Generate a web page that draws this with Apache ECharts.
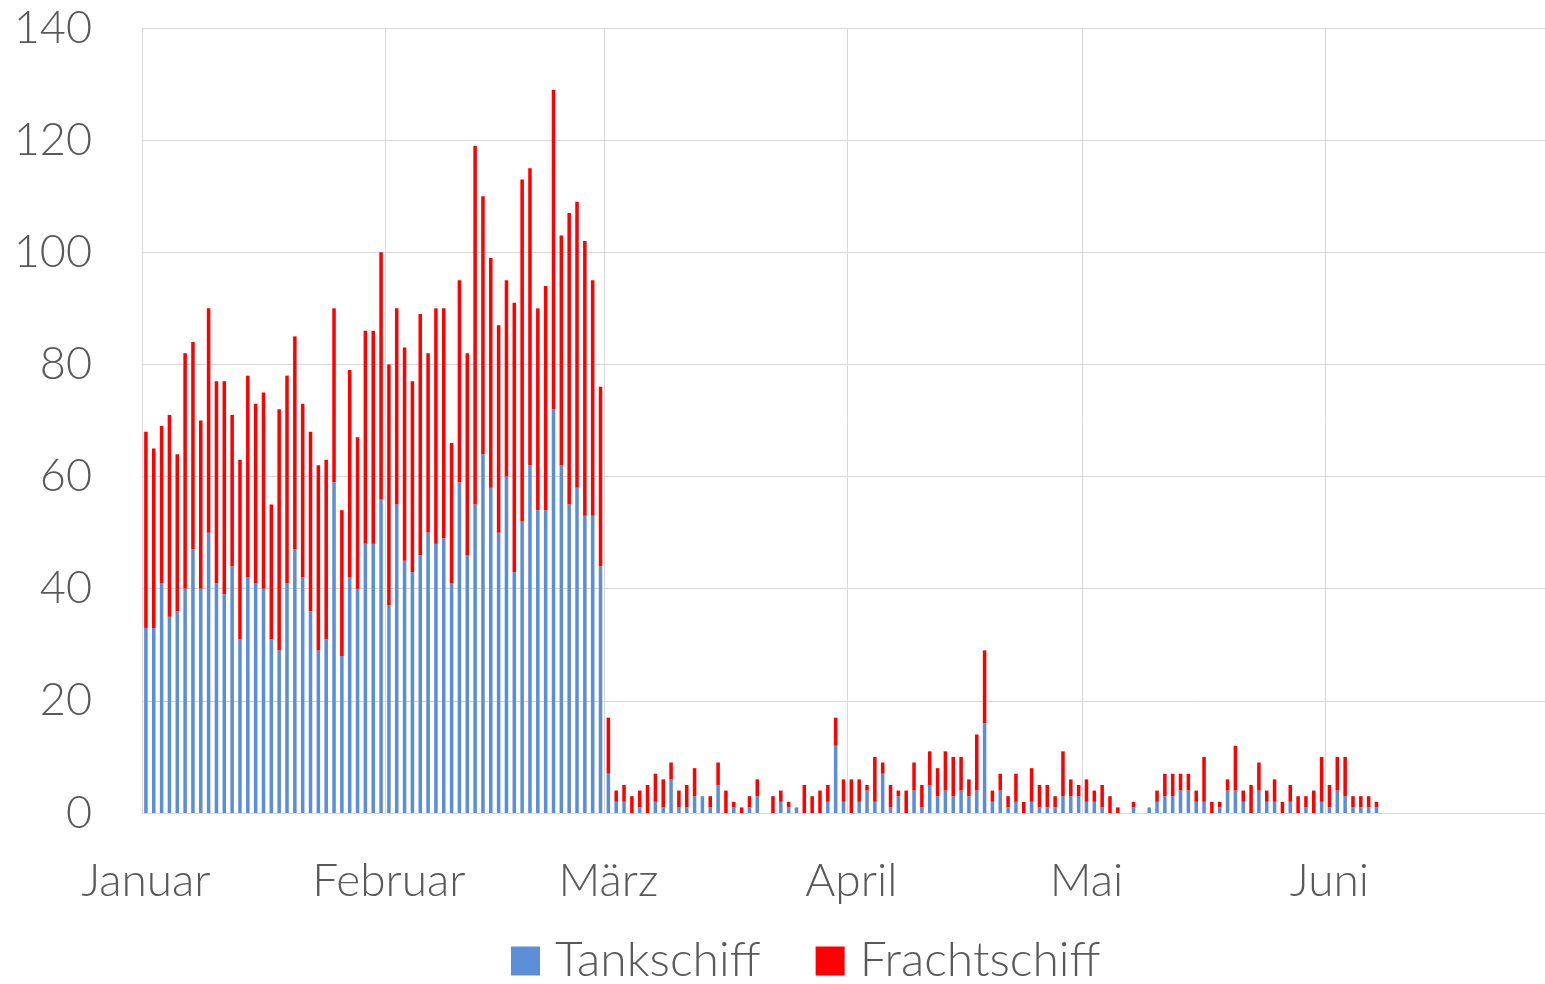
<!DOCTYPE html>
<html>
<head>
<meta charset="utf-8">
<script src="https://cdn.jsdelivr.net/npm/echarts@6/dist/echarts.min.js"></script>
<style>html,body{margin:0;padding:0;background:#fff}#c{width:1545px;height:984px}</style>
</head>
<body>
<div id="c"></div>
<script>
// Month names used as tick labels and month lengths (2022, no leap year)
var monthNames = ['Januar', 'Februar', 'März', 'April', 'Mai', 'Juni'];
var monthDays = [31, 28, 31, 30, 31, 28];

// Daily values from 1 January to 7 June
var tankschiff = [
 33,33,41,35,36,40,47,40,50,41,39,44,31,42,41,40,31,29,41,47,42,36,29,31,59,28,42,40,48,48,56,
 37,55,45,43,46,50,48,49,41,59,46,55,64,58,50,60,43,52,62,54,54,72,62,55,58,53,53,44,
 7,2,2,0,1,0,2,1,6,1,1,3,3,1,5,0,1,0,1,3,0,0,2,1,1,0,0,0,2,12,2,
 0,2,4,2,7,1,3,0,4,1,5,3,4,3,4,3,4,16,2,4,1,2,0,2,1,1,1,3,3,3,
 2,2,1,0,0,0,1,0,1,2,3,3,4,4,2,2,0,1,4,4,2,0,4,2,2,0,2,0,1,0,2,
 1,4,3,1,1,1,1
];
var frachtschiff = [
 35,32,28,36,28,42,37,30,40,36,38,27,32,36,32,35,24,43,37,38,31,32,33,32,31,26,37,27,38,38,44,
 43,35,38,34,43,32,42,41,25,36,36,64,46,41,37,35,48,61,53,36,40,57,41,52,51,49,42,32,
 10,2,3,3,3,5,5,5,3,3,4,5,0,2,4,4,1,1,2,3,0,3,2,1,0,5,3,4,3,5,4,
 6,4,1,8,2,4,1,4,5,4,6,5,7,7,6,3,10,13,2,3,2,5,2,6,4,4,2,8,3,2,
 4,2,4,3,1,0,1,0,0,2,4,4,3,3,2,8,2,1,2,8,2,5,5,2,4,2,3,3,2,4,8,
 4,6,7,2,2,2,1
];

var categories = [];
monthDays.forEach(function (n, m) {
  for (var d = 1; d <= n; d++) {
    categories.push('2022-' + String(m + 1).padStart(2, '0') + '-' + String(d).padStart(2, '0'));
  }
});
function isMonthStart(i, v) { return v.slice(8) === '01'; }

var FONT = 'Lato';
var chart = echarts.init(document.getElementById('c'), null, {renderer: 'canvas'});
chart.setOption({
  animation: false,
  grid: {left: 142, right: -3, top: 28, bottom: 171},
  legend: {
    bottom: -6, left: 506, icon: 'rect', itemWidth: 29, itemHeight: 29, itemGap: 55,
    textStyle: {fontFamily: FONT, fontWeight: 300, fontSize: 48, color: '#595959', padding: [0, 0, 0, 10]},
    data: ['Tankschiff', 'Frachtschiff']
  },
  xAxis: {
    type: 'category', data: categories, boundaryGap: true,
    axisLine: {lineStyle: {color: '#d9d9d9', width: 1}},
    axisTick: {show: false},
    axisLabel: {
      interval: isMonthStart, margin: 45,
      fontFamily: FONT, fontWeight: 300, fontSize: 46, color: '#595959',
      formatter: function (v) { return monthNames[parseInt(v.slice(5, 7), 10) - 1]; }
    },
    splitLine: {show: true, interval: isMonthStart, lineStyle: {color: '#d9d9d9', width: 1}}
  },
  yAxis: {
    type: 'value', min: 0, max: 140, interval: 20,
    axisLine: {show: false}, axisTick: {show: false},
    axisLabel: {margin: 50, fontFamily: FONT, fontWeight: 300, fontSize: 45, color: '#595959'},
    splitLine: {lineStyle: {color: '#d9d9d9', width: 1}}
  },
  series: [
    {name: 'Tankschiff', type: 'bar', stack: 's', data: tankschiff, barCategoryGap: '55%',
     itemStyle: {color: '#5B8ED6'}},
    {name: 'Frachtschiff', type: 'bar', stack: 's', data: frachtschiff, barCategoryGap: '55%',
     itemStyle: {color: '#FF0000'}}
  ]
});
</script>
</body>
</html>
